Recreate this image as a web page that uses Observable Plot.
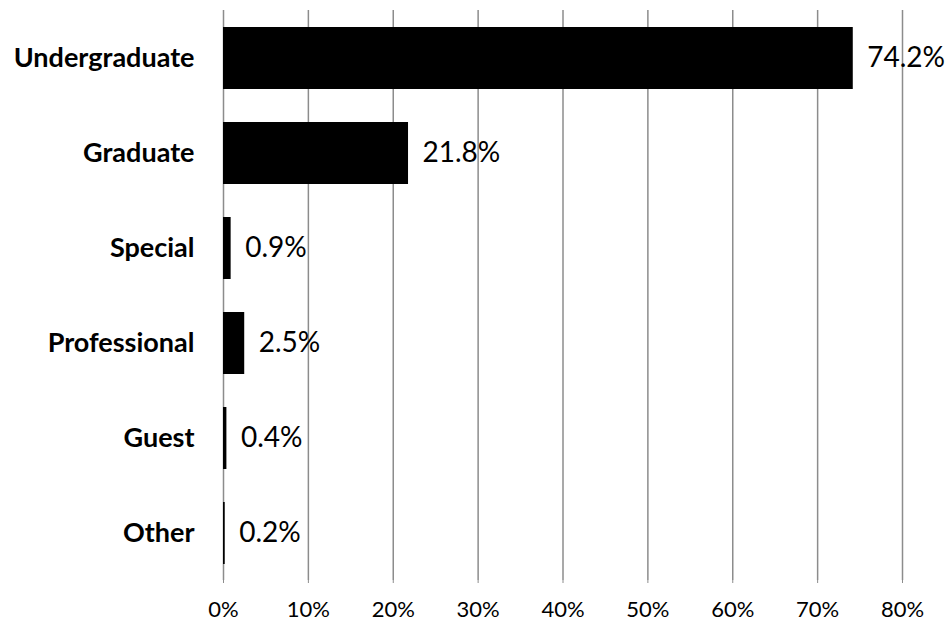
<!DOCTYPE html>
<html>
<head>
<meta charset="utf-8">
<script src="https://cdn.jsdelivr.net/npm/d3@7"></script>
<script src="https://cdn.jsdelivr.net/npm/@observablehq/plot@0.6"></script>
<style>
  html, body { margin: 0; padding: 0; background: #fff; }
  #chart svg { display: block; }
</style>
</head>
<body>
<div id="chart"></div>
<script>
const categories = ["Undergraduate", "Graduate", "Special", "Professional", "Guest", "Other"];
const values = [74.2, 21.8, 0.9, 2.5, 0.4, 0.2];
const tickValues = [0, 10, 20, 30, 40, 50, 60, 70, 80];

const data = categories.map((c, i) => ({category: c, value: values[i]}));

const chart = Plot.plot({
  width: 946,
  height: 626,
  marginLeft: 223,
  marginRight: 44,
  marginTop: 10,
  marginBottom: 46,
  style: {fontFamily: "Lato, 'Open Sans', sans-serif", background: "#fff", color: "#000"},
  x: {domain: [0, 80], ticks: tickValues, tickFormat: d => d + "%"},
  y: {domain: categories, paddingInner: 0.35, paddingOuter: 0.175},
  marks: [
    Plot.gridX(tickValues, {stroke: "#8c8c8c", strokeOpacity: 1, strokeWidth: 1.5}),
    Plot.barX(data, {x: "value", y: "category", fill: "#000"}),
    Plot.text(data, {x: "value", y: "category", text: d => d.value.toFixed(1) + "%", textAnchor: "start", dx: 14, fontSize: 28, fill: "#000"}),
    Plot.axisX({ticks: tickValues, tickFormat: d => d + "%", tickSize: 3, stroke: "#8c8c8c", tickPadding: 18, fontSize: 22, label: null}),
    Plot.axisY({tickSize: 0, tickPadding: 29, fontSize: 27, fontWeight: "bold", label: null})
  ]
});
document.getElementById("chart").appendChild(chart);
</script>
</body>
</html>
